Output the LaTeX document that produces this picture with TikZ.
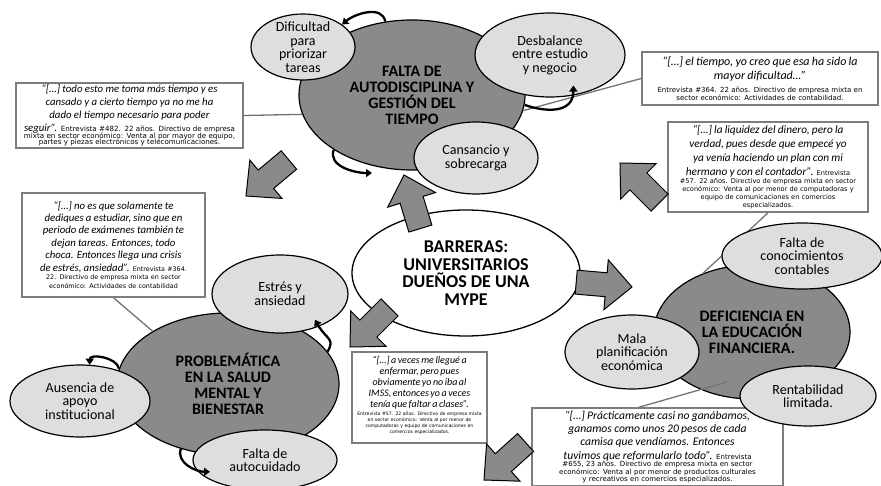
\documentclass[tikz,border=0pt]{standalone}
\usepackage{fontspec}
\setmainfont{Carlito}
\newfontfamily\notefont{DejaVu Sans}
\usetikzlibrary{shapes.geometric,arrows.meta}

\definecolor{darkfill}{RGB}{138,138,138}
\definecolor{lightfill}{RGB}{222,222,222}
\definecolor{arrowfill}{RGB}{138,138,138}
\definecolor{boxline}{RGB}{125,125,125}
\definecolor{linkgray}{RGB}{115,115,115}

\newcommand\qit[1]{\rmfamily\itshape\fontsize{#1}{#1}\selectfont}
\newcommand\blockarrow[2]{%
  \draw[barrow,shift={#1},rotate=#2] (0,0) -- (-26,-25) -- (-26,-12) -- (-56,-12)
    -- (-56,12) -- (-26,12) -- (-26,25) -- cycle;}

\tikzset{
  mainnode/.style={ellipse,draw,line width=1.3pt,fill=white,inner sep=0pt,align=center,
    font=\bfseries\fontsize{18}{17.5}\selectfont},
  catnode/.style={ellipse,draw,line width=1.2pt,fill=darkfill,inner sep=-4pt,align=center,
    font=\bfseries\fontsize{16}{16}\selectfont},
  subnode/.style={ellipse,draw,line width=1.2pt,fill=lightfill,inner sep=-6pt,align=center,
    font=\fontsize{14}{13.5}\selectfont},
  qbox/.style 2 args={rectangle,draw=boxline,line width=1.5pt,fill=white,inner sep=0.5pt,
    align=center,font=\notefont\fontsize{#1}{#2}\selectfont,
    execute at begin node={\lineskiplimit=-100pt\parindent=0pt}},
  link/.style={draw=linkgray,line width=1.3pt},
  curlarrow/.style={-{Triangle[length=6pt,width=8pt]},line width=2.3pt},
  barrow/.style={draw,line width=1pt,fill=arrowfill,line join=miter}
}

\begin{document}
\begin{tikzpicture}[x=1pt,y=-1pt]
  \useasboundingbox (0,0) rectangle (881,486);
  \clip (0,0) rectangle (881,486);

  \begin{scope}[every node/.style={catnode}]
    \node[minimum width=226pt,minimum height=150pt] (tiempo) at (412,95)
      {FALTA DE\\AUTODISCIPLINA Y\\GESTIÓN DEL\\TIEMPO};
    \node[minimum width=222pt,minimum height=142pt] (salud) at (228,384)
      {PROBLEMÁTICA\\EN LA SALUD\\MENTAL Y\\BIENESTAR};
    \node[minimum width=196pt,minimum height=134pt] (fin) at (752,332)
      {DEFICIENCIA EN\\LA EDUCACIÓN\\FINANCIERA.};
  \end{scope}

  \node[mainnode,minimum width=228pt,minimum height=126pt] (barreras) at (466,273)
    {BARRERAS:\\UNIVERSITARIOS\\DUEÑOS DE UNA\\MYPE};

  \node[qbox={7.1}{6.8},minimum width=227pt,minimum height=65pt,text width=226pt] (q482) at (129.5,115.5)
    {{\qit{10.8}“[…] todo esto me toma más tiempo y es}\\[6.2pt]
     {\qit{10.8}cansado y a cierto tiempo ya no me ha}\\[6.2pt]
     {\qit{10.8}dado el tiempo necesario para poder}\\[6.2pt]
     {\qit{10.8}seguir”.} Entrevista \#482. 22 años. Directivo de empresa\\
     mixta en sector económico: Venta al por mayor de equipo,\\
     partes y piezas electrónicos y telecomunicaciones.};
  \node[qbox={7}{8.5},minimum width=236pt,minimum height=53pt,text width=235pt] (q364a) at (760,78.5)
    {{\qit{12}“[…] el tiempo, yo creo que esa ha sido la}\\[5.5pt]
     {\qit{12}mayor dificultad…”}\\[4.5pt]
     Entrevista \#364. 22 años. Directivo de empresa mixta en\\
     sector económico: Actividades de contabilidad.};
  \node[qbox={6.6}{8},minimum width=200pt,minimum height=90pt,text width=199pt] (q57a) at (768,167)
    {{\qit{11.3}“[…] la liquidez del dinero, pero la}\\[6pt]
     {\qit{11.3}verdad, pues desde que empecé yo}\\[6pt]
     {\qit{11.3}ya venía haciendo un plan con mi}\\[6pt]
     {\qit{11.3}hermano y con el contador”.} Entrevista\\
     \#57. 22 años. Directivo de empresa mixta en sector\\
     económico: Venta al por menor de computadoras y\\
     equipo de comunicaciones en comercios\\
     especializados.};
  \node[qbox={6.4}{8.8},minimum width=183pt,minimum height=104pt,text width=182pt] (q364b) at (113.5,245)
    {{\qit{10.8}“[…] no es que solamente te}\\[3.6pt]
     {\qit{10.8}dediques a estudiar, sino que en}\\[3.6pt]
     {\qit{10.8}periodo de exámenes también te}\\[3.6pt]
     {\qit{10.8}dejan tareas. Entonces, todo}\\[3.6pt]
     {\qit{10.8}choca. Entonces llega una crisis}\\[3.6pt]
     {\qit{10.8}de estrés, ansiedad”.} Entrevista \#364.\\
     22. Directivo de empresa mixta en sector\\
     económico: Actividades de contabilidad};
  \node[qbox={4.6}{6},minimum width=135pt,minimum height=91pt,text width=134pt] (q57b) at (419.5,397.5)
    {{\qit{10}“[…] a veces me llegué a}\\[5pt]
     {\qit{10}enfermar, pero pues}\\[5pt]
     {\qit{10}obviamente yo no iba al}\\[5pt]
     {\qit{10}IMSS, entonces yo a veces}\\[5pt]
     {\qit{10}tenía que faltar a clases”.}\\[2pt]
     Entrevista \#57. 22 años. Directivo de empresa mixta\\
     en sector económico: Venta al por menor de\\
     computadoras y equipo de comunicaciones en\\
     comercios especializados.\\
     .};
  \node[qbox={7}{7.5},minimum width=251pt,minimum height=78pt,text width=250pt] (q655) at (657.5,447)
    {{\qit{11.6}“[…] Prácticamente casi no ganábamos,}\\[5.7pt]
     {\qit{11.6}ganamos como unos 20 pesos de cada}\\[5.7pt]
     {\qit{11.6}camisa que vendíamos. Entonces}\\[5.7pt]
     {\qit{11.6}tuvimos que reformularlo todo”.} Entrevista\\
     \#655,  23 años. Directivo de empresa mixta en sector\\
     económico: Venta al por menor de productos culturales\\
     y recreativos en comercios especializados.};

  \coordinate (finq) at (727,382);
  \coordinate (cansq) at (372,173);

  \draw[link] (q482.east) -- (tiempo.190);
  \draw[link] (q364a.west) -- (tiempo.-8);
  \draw[link] (q364b.south) -- (salud.145);
  \draw[link] (q57a.south) -- (fin.130);
  \draw[link] (q655.115) -- (finq);

  \begin{scope}[every node/.style={subnode}]
    \node[minimum width=104pt,minimum height=66pt] (prior) at (303,47) {Dificultad\\para\\priorizar\\tareas};
    \node[minimum width=150pt,minimum height=84pt] (desb) at (550,55) {Desbalance\\entre estudio\\y negocio};
    \node[minimum width=124pt,minimum height=72pt] (cans) at (476,158) {Cansancio y\\sobrecarga};
    \node[minimum width=136pt,minimum height=78pt] (estres) at (280,294) {Estrés y\\ansiedad};
    \node[minimum width=140pt,minimum height=72pt] (apoyo) at (80,401) {Ausencia de\\apoyo\\institucional};
    \node[minimum width=144pt,minimum height=60pt] (autoc) at (265,460) {Falta de\\autocuidado};
    \node[minimum width=160pt,minimum height=66pt] (conoc) at (802,256) {Falta de\\conocimientos\\contables};
    \node[minimum width=134pt,minimum height=74pt] (mala) at (632,352) {Mala\\planificación\\económica};
    \node[minimum width=136pt,minimum height=60pt] (rent) at (808,396) {Rentabilidad\\limitada.};
  \end{scope}

  \draw[curlarrow] (tiempo.110) to[out=100,in=40] (prior.30);
  \draw[curlarrow] (tiempo.215) to[out=250,in=180] (cansq);
  \draw[curlarrow,shorten >=-10pt] (tiempo.-5) to[out=-20,in=-90] (desb.-60);
  \draw[curlarrow] (salud.172) to[out=100,in=90] (apoyo.75);
  \draw[curlarrow] (salud.234) to[out=250,in=180] ([xshift=12pt]autoc.190);
  \draw[curlarrow,shorten >=-8pt,looseness=1.5] (salud.18) to[out=60,in=-60] (estres.-40);

  \blockarrow{(246,196)}{220}
  \blockarrow{(404,175)}{107}
  \blockarrow{(620,163)}{135}
  \blockarrow{(632,287)}{-5}
  \blockarrow{(350,347)}{225}
  \blockarrow{(484,480)}{222}
\end{tikzpicture}
\end{document}
